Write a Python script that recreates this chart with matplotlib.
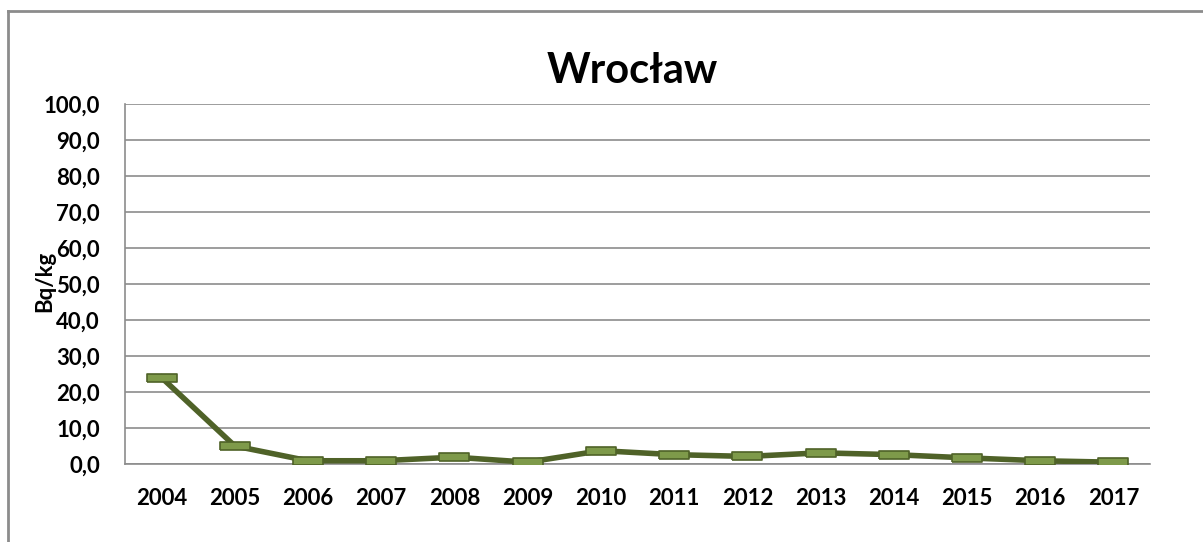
import matplotlib
matplotlib.use("Agg")
import matplotlib.pyplot as plt
from matplotlib.lines import Line2D

# --- data --------------------------------------------------------------------
years = ["2004", "2005", "2006", "2007", "2008", "2009", "2010",
         "2011", "2012", "2013", "2014", "2015", "2016", "2017"]
values = [24.0, 5.0, 0.9, 0.9, 1.9, 0.5, 3.7, 2.6, 2.1, 3.1, 2.6, 1.7, 0.9, 0.5]
yticks = [0, 10, 20, 30, 40, 50, 60, 70, 80, 90, 100]

LINE = "#4F6228"
FILL = "#7E9A4A"
GRID = "#8C8C8C"
FONT = "Lato"

plt.rcParams["font.family"] = [FONT, "DejaVu Sans"]

W, H = 1203, 542
fig = plt.figure(figsize=(W / 100, H / 100), dpi=100)
ax = fig.add_axes([125 / W, 1 - 464 / H, (1150 - 125) / W, (464 - 104) / H])

x = list(range(len(years)))
# wide flat dash marker like Excel
dash = [(-2.2, -0.55), (2.2, -0.55), (2.2, 0.55), (-2.2, 0.55), (-2.2, -0.55)]
ax.plot(x, values, color=LINE, lw=4, solid_joinstyle="round",
        marker=dash, markersize=22, markerfacecolor=FILL,
        markeredgecolor=LINE, markeredgewidth=1.2, zorder=3)

ax.set_xlim(-0.5, len(years) - 0.5)
ax.set_ylim(0, 100)
ax.set_yticks(yticks)
ax.set_yticklabels([f"{v:.1f}".replace(".", ",") for v in yticks])
ax.set_xticks(x)
ax.set_xticklabels(years)
ax.tick_params(length=0, labelsize=16)
for lab in ax.get_xticklabels() + ax.get_yticklabels():
    lab.set_fontweight("bold")
ax.tick_params(axis="y", pad=18)
ax.tick_params(axis="x", pad=17)

ax.grid(axis="y", color=GRID, lw=1.2)
ax.set_axisbelow(True)
for s in ["top", "right"]:
    ax.spines[s].set_visible(False)
for s in ["left", "bottom"]:
    ax.spines[s].set_color(GRID)
    ax.spines[s].set_linewidth(1.2)

fig.text(632 / W, 1 - 71 / H, "Wrocław", ha="center", va="center",
         fontsize=30, fontweight="bold")
fig.text(45 / W, 1 - 281 / H, "Bq/kg", ha="center", va="center",
         rotation=90, fontsize=16, fontweight="bold")

# outer chart frame (top and left edges only visible)
fig.add_artist(Line2D([8 / W, 1], [1 - 11 / H, 1 - 11 / H],
                      transform=fig.transFigure, color="#8C8C8C", lw=2))
fig.add_artist(Line2D([8 / W, 8 / W], [0, 1 - 11 / H],
                      transform=fig.transFigure, color="#8C8C8C", lw=2))

fig.savefig("out.png", dpi=100)
